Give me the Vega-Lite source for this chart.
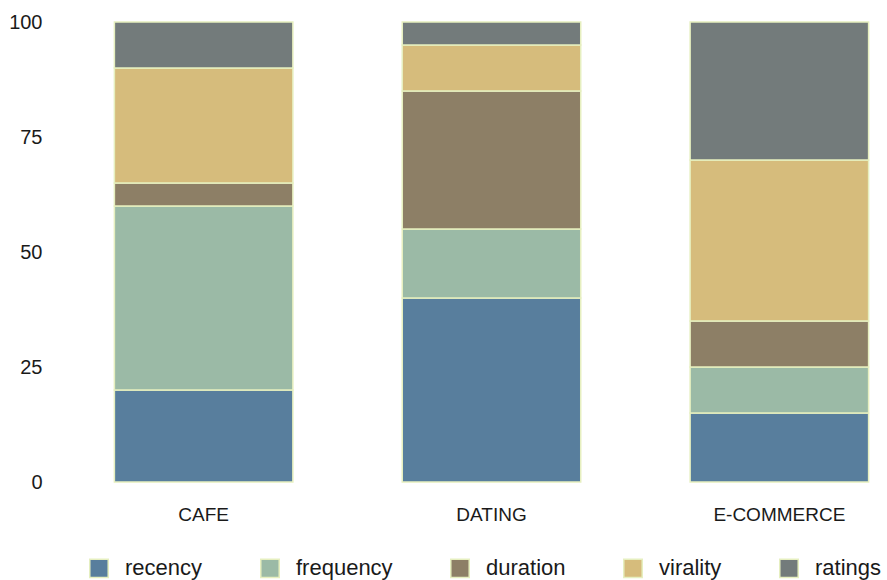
{
  "$schema": "https://vega.github.io/schema/vega-lite/v6.json",
  "autosize": "none",
  "width": 783,
  "height": 460,
  "padding": {"left": 100, "top": 22, "right": 4, "bottom": 98},
  "background": "white",
  "config": {
    "view": {"stroke": null},
    "font": "Liberation Sans"
  },
  "data": {
    "values": [
      {"category": "CAFE", "metric": "recency", "idx": 1, "value": 20},
      {"category": "CAFE", "metric": "frequency", "idx": 2, "value": 40},
      {"category": "CAFE", "metric": "duration", "idx": 3, "value": 5},
      {"category": "CAFE", "metric": "virality", "idx": 4, "value": 25},
      {"category": "CAFE", "metric": "ratings", "idx": 5, "value": 10},
      {"category": "DATING", "metric": "recency", "idx": 1, "value": 40},
      {"category": "DATING", "metric": "frequency", "idx": 2, "value": 15},
      {"category": "DATING", "metric": "duration", "idx": 3, "value": 30},
      {"category": "DATING", "metric": "virality", "idx": 4, "value": 10},
      {"category": "DATING", "metric": "ratings", "idx": 5, "value": 5},
      {"category": "E-COMMERCE", "metric": "recency", "idx": 1, "value": 15},
      {"category": "E-COMMERCE", "metric": "frequency", "idx": 2, "value": 10},
      {"category": "E-COMMERCE", "metric": "duration", "idx": 3, "value": 10},
      {"category": "E-COMMERCE", "metric": "virality", "idx": 4, "value": 35},
      {"category": "E-COMMERCE", "metric": "ratings", "idx": 5, "value": 30}
    ]
  },
  "mark": {"type": "bar", "stroke": "#e6efbf", "strokeWidth": 1.5},
  "encoding": {
    "x": {
      "field": "category",
      "type": "nominal",
      "sort": ["CAFE", "DATING", "E-COMMERCE"],
      "scale": {"paddingInner": 0.38, "paddingOuter": 0.05},
      "axis": {
        "title": null,
        "labelAngle": 0,
        "domain": false,
        "ticks": false,
        "labelFontSize": 19,
        "labelColor": "#1a1a1a",
        "labelPadding": 23
      }
    },
    "y": {
      "field": "value",
      "type": "quantitative",
      "stack": "zero",
      "scale": {"domain": [0, 100]},
      "axis": {
        "title": null,
        "values": [0, 25, 50, 75, 100],
        "grid": false,
        "domain": false,
        "ticks": false,
        "labelFontSize": 20,
        "labelColor": "#1a1a1a",
        "labelPadding": 58
      }
    },
    "color": {
      "field": "metric",
      "type": "nominal",
      "scale": {
        "domain": ["recency", "frequency", "duration", "virality", "ratings"],
        "range": ["#587e9d", "#9bbaa6", "#8d7f66", "#d6bc7c", "#737b7b"]
      },
      "legend": {
        "title": null,
        "orient": "none",
        "legendX": -12,
        "legendY": 535,
        "direction": "horizontal",
        "symbolType": "square",
        "symbolSize": 340,
        "symbolStrokeColor": "#e6efbf",
        "symbolStrokeWidth": 1.5,
        "symbolOpacity": 1,
        "labelFontSize": 22,
        "labelColor": "#1a1a1a",
        "labelOffset": 15,
        "columnPadding": 54,
        "padding": 0
      }
    },
    "order": {"field": "idx", "type": "quantitative", "sort": "ascending"}
  }
}
